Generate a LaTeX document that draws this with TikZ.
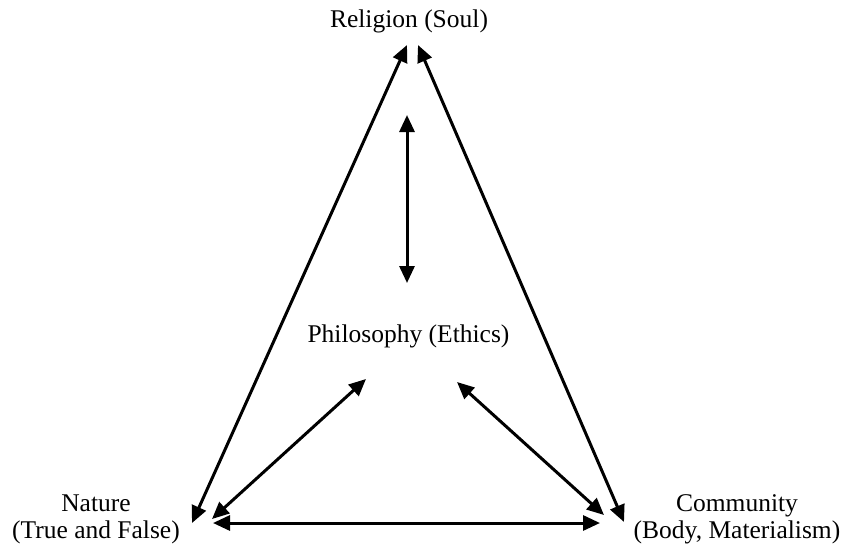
\documentclass[tikz,border=0pt]{standalone}
\usepackage{fontspec}
\setmainfont{Liberation Serif}
\usetikzlibrary{arrows.meta}
\begin{document}
\begin{tikzpicture}[x=1pt,y=-1pt,
  lbl/.style={font=\fontsize{25.5}{27}\selectfont, align=center, inner sep=0pt, anchor=base},
  link/.style={line width=3pt, {Triangle[length=17pt,width=15pt]}-{Triangle[length=17pt,width=15pt]}}]
\useasboundingbox (0,0) rectangle (842,547);
\node[lbl] (rel) at (409,27) {Religion (Soul)};
\node[lbl] (phil) at (408.5,342) {Philosophy (Ethics)};
\node[lbl] (nat) at (96,538) {Nature\\(True and False)};
\node[lbl] (com) at (737,538) {Community\\(Body, Materialism)};
% arrow end points
\coordinate (rl) at (407,45);
\coordinate (rr) at (418,45);
\coordinate (vt) at (407,115);
\coordinate (vb) at (407,283);
\coordinate (pl) at (366,379);
\coordinate (pr) at (457,382);
\coordinate (nl) at (192,523);
\coordinate (nd) at (212,519);
\coordinate (nh) at (213,523);
\coordinate (ch) at (600,523);
\coordinate (cd) at (604,515);
\coordinate (cl) at (624,522);
\draw[link] (rl) -- (nl);
\draw[link] (rr) -- (cl);
\draw[link] (vt) -- (vb);
\draw[link] (pl) -- (nd);
\draw[link] (pr) -- (cd);
\draw[link] (nh) -- (ch);
\end{tikzpicture}
\end{document}
